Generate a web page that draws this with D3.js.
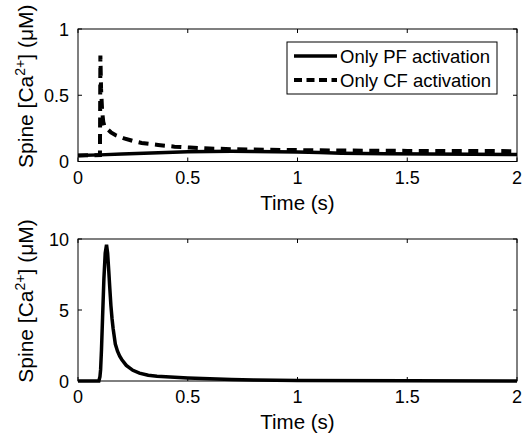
<!DOCTYPE html>
<html>
<head>
<meta charset="utf-8">
<script src="https://cdn.jsdelivr.net/npm/d3@7"></script>
<style>
  body { margin: 0; background: #fff; }
  text { font-family: "Liberation Sans", Arial, sans-serif; fill: #000; }
</style>
</head>
<body>
<svg id="chart" width="522" height="439"></svg>
<script>
// top panel: PF only vs CF only
var pfTime = [0, 0.1, 0.2, 0.3, 0.4, 0.5, 0.6, 0.7, 0.8, 0.9, 1.0, 1.1, 1.2, 1.4, 1.6, 1.8, 2.0];
var pfCa   = [0.045, 0.05, 0.056, 0.062, 0.068, 0.073, 0.076, 0.077, 0.076, 0.074, 0.071, 0.067, 0.063, 0.059, 0.056, 0.054, 0.053];

var cfTime = [0, 0.1, 0.102, 0.105, 0.11, 0.115, 0.12, 0.13, 0.15, 0.17, 0.21, 0.25, 0.29, 0.365, 0.44, 0.51, 0.6, 0.7, 0.8, 1.0, 1.2, 1.5, 1.8, 2.0];
var cfCa   = [0.045, 0.048, 0.8, 0.55, 0.38, 0.3, 0.27, 0.25, 0.22, 0.2, 0.175, 0.155, 0.14, 0.125, 0.112, 0.105, 0.098, 0.093, 0.09, 0.086, 0.083, 0.08, 0.079, 0.078];

// bottom panel: both
var bothTime = [0, 0.095, 0.1, 0.103, 0.107, 0.112, 0.118, 0.124, 0.13, 0.135, 0.14, 0.145, 0.15, 0.155, 0.16, 0.17, 0.18, 0.19, 0.2, 0.22, 0.25, 0.28, 0.32, 0.36, 0.42, 0.5, 0.6, 0.7, 0.8, 1.0, 1.5, 2.0];
var bothCa   = [0, 0, 0.3, 0.8, 2.2, 4.5, 7.2, 9.0, 9.6, 9.0, 7.8, 6.5, 5.3, 4.4, 3.7, 2.6, 2.1, 1.75, 1.5, 1.1, 0.75, 0.55, 0.4, 0.33, 0.28, 0.21, 0.15, 0.1, 0.07, 0.04, 0.01, 0];

var xTicks = [0, 0.5, 1, 1.5, 2];
var topYTicks = [0, 0.5, 1];
var botYTicks = [0, 5, 10];
var legendLabels = ["Only PF activation", "Only CF activation"];

var svg = d3.select("#chart");
var left = 78, right = 517;

function toPts(ts, vs) {
  return ts.map(function(t, i) { return [t, vs[i]]; });
}

function drawPanel(top, bottom, yMax, yTicks, series) {
  var x = d3.scaleLinear().domain([0, 2]).range([left, right]);
  var y = d3.scaleLinear().domain([0, yMax]).range([bottom, top]);
  var g = svg.append("g");

  // series
  var line = d3.line().x(function(d) { return x(d[0]); }).y(function(d) { return y(d[1]); });
  series.forEach(function(s) {
    g.append("path")
      .attr("d", line(s.pts))
      .attr("fill", "none")
      .attr("stroke", "#000")
      .attr("stroke-width", s.w)
      .attr("stroke-dasharray", s.dash || null)
      .attr("stroke-linejoin", "miter");
  });

  // box
  g.append("rect")
    .attr("x", left).attr("y", top)
    .attr("width", right - left).attr("height", bottom - top)
    .attr("fill", "none").attr("stroke", "#000").attr("stroke-width", 1);

  // ticks inside, all four sides
  xTicks.forEach(function(t) {
    g.append("line").attr("x1", x(t)).attr("x2", x(t)).attr("y1", bottom).attr("y2", bottom - 4).attr("stroke", "#000");
    g.append("line").attr("x1", x(t)).attr("x2", x(t)).attr("y1", top).attr("y2", top + 4).attr("stroke", "#000");
    g.append("text").text(t).attr("x", x(t)).attr("y", bottom + 22)
      .attr("text-anchor", "middle").style("font-size", "18px");
  });
  yTicks.forEach(function(t) {
    g.append("line").attr("x1", left).attr("x2", left + 4).attr("y1", y(t)).attr("y2", y(t)).attr("stroke", "#000");
    g.append("line").attr("x1", right).attr("x2", right - 4).attr("y1", y(t)).attr("y2", y(t)).attr("stroke", "#000");
    g.append("text").text(t).attr("x", left - 9).attr("y", y(t) + 6.5)
      .attr("text-anchor", "end").style("font-size", "18px");
  });

  // axis labels
  g.append("text").text("Time (s)")
    .attr("x", (left + right) / 2).attr("y", bottom + 48)
    .attr("text-anchor", "middle").style("font-size", "20.5px");

  var yl = g.append("text")
    .attr("transform", "translate(33," + ((top + bottom) / 2 - 9) + ") rotate(-90)")
    .attr("text-anchor", "middle").style("font-size", "21px");
  yl.append("tspan").text("Spine [Ca");
  yl.append("tspan").text("2+").attr("dy", -8).style("font-size", "14px");
  yl.append("tspan").text("] (\u03bcM)").attr("dy", 8);

  return { x: x, y: y, g: g };
}

var p1 = drawPanel(29, 161.5, 1, topYTicks, [
  { pts: toPts(pfTime, pfCa), w: 3.5 },
  { pts: toPts(cfTime, cfCa), w: 4, dash: "10,6.5" }
]);

var p2 = drawPanel(239, 381, 10, botYTicks, [
  { pts: toPts(bothTime, bothCa), w: 3.5 }
]);

// legend
var lg = svg.append("g");
lg.append("rect").attr("x", 287).attr("y", 42).attr("width", 210).attr("height", 52)
  .attr("fill", "#fff").attr("stroke", "#000").attr("stroke-width", 1);
legendLabels.forEach(function(lab, i) {
  var yy = 56 + i * 24;
  lg.append("line").attr("x1", 294).attr("x2", 337).attr("y1", yy).attr("y2", yy)
    .attr("stroke", "#000").attr("stroke-width", i === 0 ? 3.5 : 4)
    .attr("stroke-dasharray", i === 0 ? null : "8,4.5");
  lg.append("text").text(lab).attr("x", 340).attr("y", yy + 6.5).style("font-size", "18.5px");
});
</script>
</body>
</html>
